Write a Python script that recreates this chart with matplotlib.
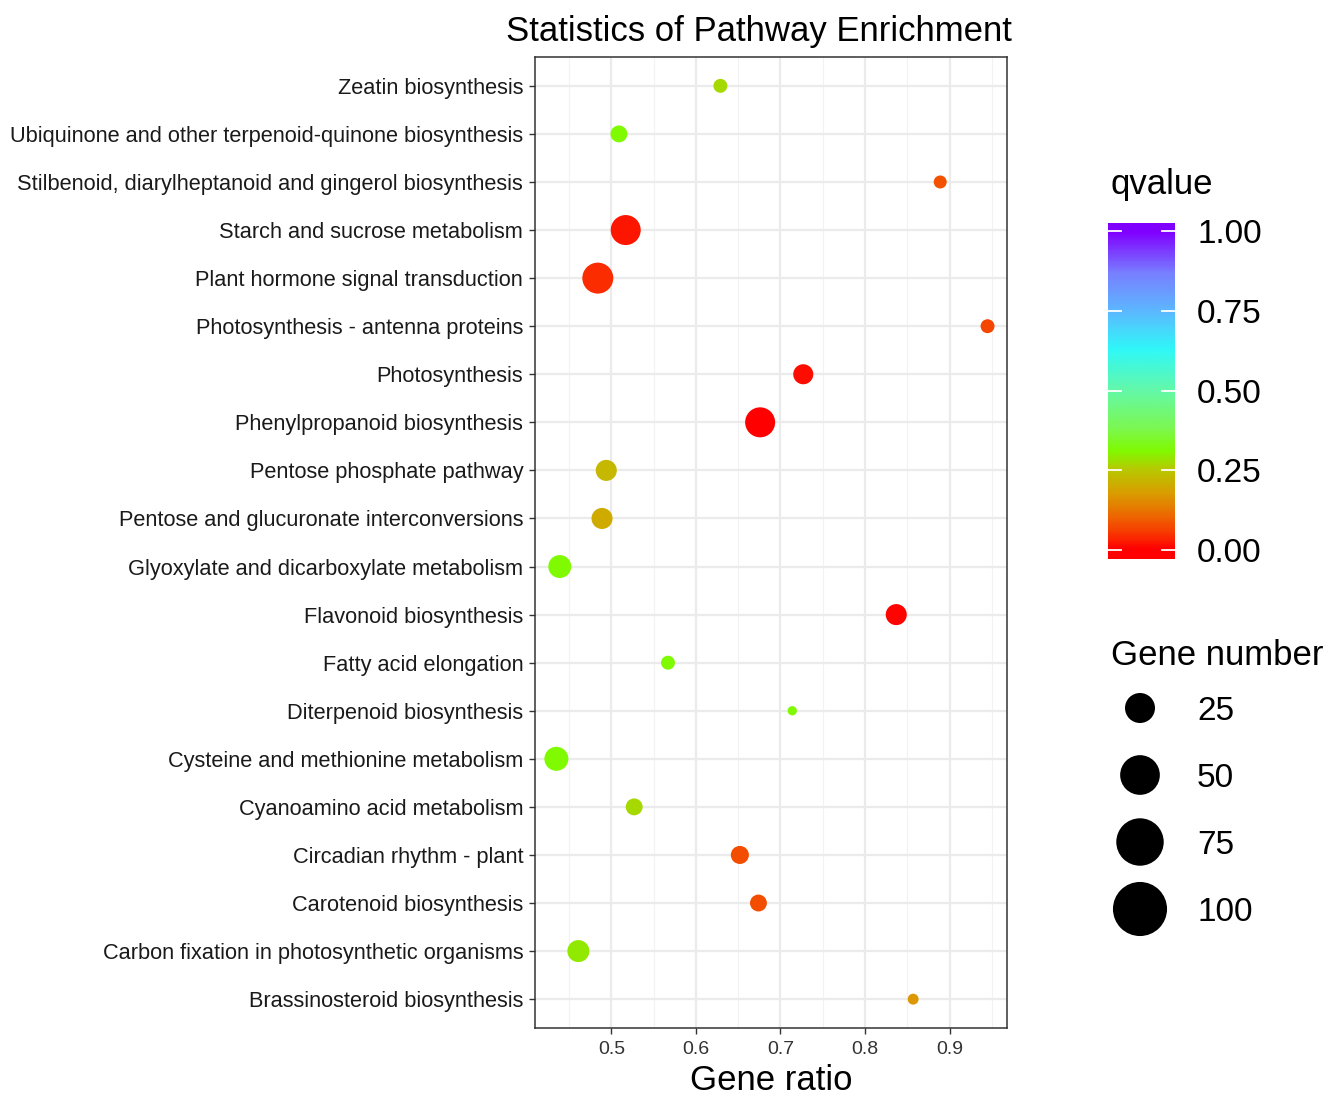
import numpy as np
import matplotlib
matplotlib.use("Agg")
import matplotlib.pyplot as plt
from matplotlib.colors import LinearSegmentedColormap
from matplotlib.transforms import blended_transform_factory

plt.rcParams['font.family'] = ['Liberation Sans', 'DejaVu Sans']

# pathways, bottom to top as drawn
pathways = [
    "Brassinosteroid biosynthesis",
    "Carbon fixation in photosynthetic organisms",
    "Carotenoid biosynthesis",
    "Circadian rhythm - plant",
    "Cyanoamino acid metabolism",
    "Cysteine and methionine metabolism",
    "Diterpenoid biosynthesis",
    "Fatty acid elongation",
    "Flavonoid biosynthesis",
    "Glyoxylate and dicarboxylate metabolism",
    "Pentose and glucuronate interconversions",
    "Pentose phosphate pathway",
    "Phenylpropanoid biosynthesis",
    "Photosynthesis",
    "Photosynthesis - antenna proteins",
    "Plant hormone signal transduction",
    "Starch and sucrose metabolism",
    "Stilbenoid, diarylheptanoid and gingerol biosynthesis",
    "Ubiquinone and other terpenoid-quinone biosynthesis",
    "Zeatin biosynthesis",
]
gene_ratio = [0.857, 0.461, 0.674, 0.652, 0.527, 0.435, 0.714, 0.567, 0.837, 0.439,
              0.489, 0.494, 0.676, 0.727, 0.945, 0.484, 0.517, 0.889, 0.509, 0.629]
gene_number = [6, 50, 26, 31, 26, 61, 2, 15, 45, 55,
               45, 45, 100, 40, 15, 107, 100, 12, 26, 15]
qvalue = [0.17, 0.29, 0.075, 0.075, 0.27, 0.31, 0.31, 0.31, 0.005, 0.31,
          0.20, 0.22, 0.0, 0.015, 0.07, 0.04, 0.02, 0.08, 0.31, 0.27]

size_breaks = [25, 50, 75, 100]
q_breaks = [0.0, 0.25, 0.5, 0.75, 1.0]
x_ticks = [0.5, 0.6, 0.7, 0.8, 0.9]

cmap = LinearSegmentedColormap.from_list("qv", [
    (0.0, '#FF0000'), (0.05, '#F83800'), (0.11, '#EC6C00'), (0.18, '#D8A000'),
    (0.25, '#B8C800'), (0.31, '#80FA00'), (0.38, '#7CF850'), (0.5, '#64F8A8'),
    (0.63, '#30F8F8'), (0.75, '#5CB8FF'), (0.87, '#7880FF'), (1.0, '#8000FF')])

W, H = 1326, 1097
DPI = 100
PT = 72.0 / DPI


def legend_diam(n):
    # diameter in pixels of a legend key
    return np.sqrt(225 + 27 * np.asarray(n, dtype=float))


fig = plt.figure(figsize=(W / DPI, H / DPI), dpi=DPI)

ax = fig.add_axes([535 / W, 1 - 1028 / H, (1007 - 535) / W, (1028 - 57) / H])
ypos = np.arange(1, len(pathways) + 1)
sizes = (0.555 * legend_diam(gene_number) * PT) ** 2
ax.scatter(gene_ratio, ypos, s=sizes, c=cmap(np.array(qvalue)), edgecolors='none', zorder=3)

ax.set_xlim(0.4097, 0.968)
ax.set_ylim(0.4, len(pathways) + 0.6)
ax.set_xticks(x_ticks)
ax.set_xticklabels([str(v) for v in x_ticks])
ax.set_xticks(np.arange(0.45, 0.96, 0.1), minor=True)
ax.set_yticks(ypos)
ax.set_yticklabels(pathways)
ax.grid(which='major', color='#EBEBEB', linewidth=1.6, zorder=0)
ax.grid(which='minor', axis='x', color='#F2F2F2', linewidth=0.8, zorder=0)
ax.set_axisbelow(True)
ax.tick_params(axis='y', labelsize=15.7, length=4, width=1, color='#333333', labelcolor='#1A1A1A', pad=4.5)
ax.tick_params(axis='x', labelsize=14, length=4, width=1, color='#333333', labelcolor='#333333', pad=5)
ax.tick_params(which='minor', length=0)
for sp in ax.spines.values():
    sp.set_color('#333333')
    sp.set_linewidth(1.1)
ax.set_xlabel("Gene ratio", fontsize=25, labelpad=5)

fig.text(759 / W, 1 - 28 / H, "Statistics of Pathway Enrichment", fontsize=25,
         ha='center', va='center_baseline')

# colour bar
lo, hi = -0.028, 1.025
cax = fig.add_axes([1108 / W, 1 - 559 / H, 67 / W, 336 / H])
grad = np.linspace(lo, hi, 300).reshape(-1, 1)
cax.imshow(np.clip(grad, 0, 1), cmap=cmap, vmin=0, vmax=1, aspect='auto',
           origin='lower', extent=[0, 1, lo, hi])
cax.set_xlim(0, 1)
cax.set_ylim(lo, hi)
cax.set_axis_off()
for q in q_breaks:
    cax.plot([0, 0.2], [q, q], color='white', lw=1.3)
    cax.plot([0.8, 1], [q, q], color='white', lw=1.3)
    cax.text(1.33, q, f"{q:.2f}", fontsize=24, va='center_baseline', ha='left',
             transform=blended_transform_factory(cax.transAxes, cax.transData))
fig.text(1111 / W, 1 - 181 / H, "qvalue", fontsize=25, ha='left', va='center_baseline')

# size legend
fig.text(1111 / W, 1 - 652 / H, "Gene number", fontsize=25, ha='left', va='center_baseline')
lax = fig.add_axes([0, 0, 1, 1], facecolor='none')
lax.set_xlim(0, W)
lax.set_ylim(H, 0)
lax.set_axis_off()
for i, n in enumerate(size_breaks):
    yc = 708 + 67 * i
    lax.scatter([1140], [yc], s=(legend_diam(n) * PT) ** 2, color='black', edgecolors='none')
    lax.text(1197, yc, str(n), fontsize=24, ha='left', va='center_baseline')

fig.savefig("out.png", dpi=DPI)
